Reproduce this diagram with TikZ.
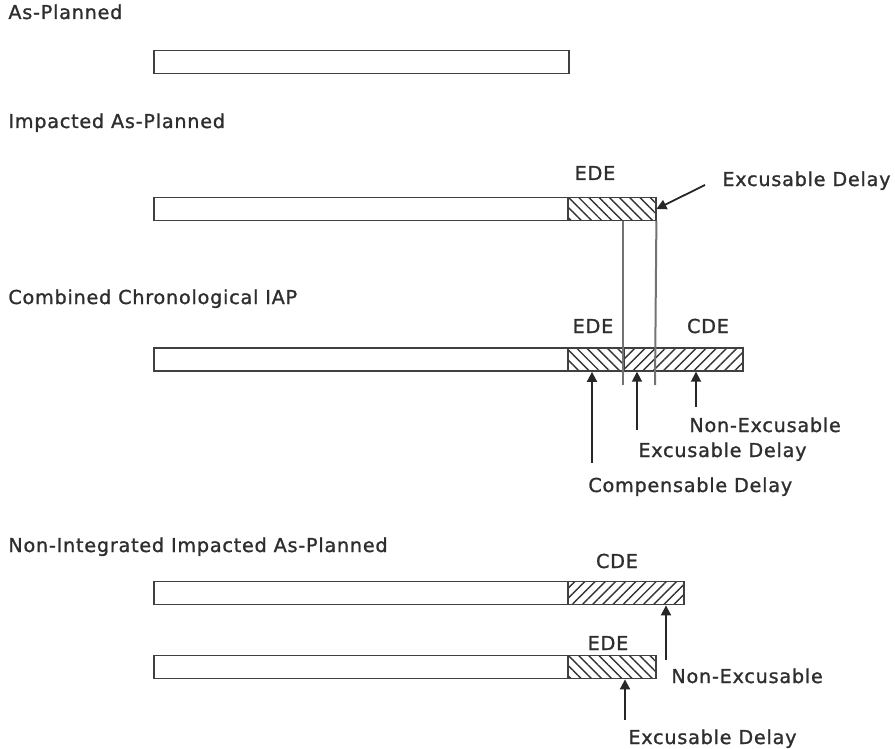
\documentclass[tikz,border=0pt]{standalone}
\usepackage{fontspec}
\setmainfont[LetterSpace=4, FakeBold=1.2]{DejaVu Sans}
\usetikzlibrary{positioning, arrows.meta, patterns.meta}

\begin{document}
\begin{tikzpicture}[x=0.5pt, y=-0.5pt,
    every node/.style={font=\fontsize{9.6}{11}\selectfont, text=black!82},
    bar/.style={draw=black!75, line width=0.9pt, fill=white, inner sep=0pt, minimum height=11.5pt, anchor=west},
    edebar/.style={bar, pattern={Lines[angle=-45, distance=3.6pt, line width=0.7pt]}, pattern color=black!80},
    cdebar/.style={bar, pattern={Lines[angle=45, distance=3.6pt, line width=0.7pt]}, pattern color=black!80},
    title/.style={anchor=base west, inner sep=0pt},
    lbl/.style={anchor=base west, inner sep=0pt},
    guide/.style={draw=black!55, line width=1pt},
    pointer/.style={draw=black!85, line width=0.9pt, -{Triangle[length=5pt, width=5pt]}}]
    \useasboundingbox (0,0) rectangle (895,749);

    % As-Planned
    \node[title] (tAP) at (8,19) {As-Planned};
    \node[bar, minimum width=207.5pt] (ap) at (153,62) {};

    % Impacted As-Planned
    \node[title] (tIAP) at (8,128) {Impacted As-Planned};
    \node[bar, minimum width=207pt] (iap) at (153,209) {};
    \node[edebar, minimum width=44pt] (iapE) at (567,209) {};
    \node[anchor=base] (iapEDE) at (595,180) {EDE};
    \node[lbl] (iapExc) at (722,186) {Excusable Delay};
    \coordinate (iapTail) at (705,185);
    \draw[pointer] (iapTail) -- (iapE.east);

    % Combined Chronological IAP
    \node[title] (tCC) at (8,304) {Combined Chronological IAP};
    \node[bar, minimum width=207pt] (cc) at (153,359.5) {};
    \node[edebar, minimum width=28pt] (ccE) at (567,359.5) {};
    \node[cdebar, minimum width=59.5pt] (ccC) at (623,359.5) {};
    \node[anchor=base] (ccEDE) at (593,333) {EDE};
    \node[anchor=base] (ccCDE) at (708,333) {CDE};

    % guide lines
    \coordinate (g1) at (623,385);
    \coordinate (g2) at (655,385);
    \draw[guide] (iapE.south -| g1) -- (g1);
    \draw[guide] (iapE.south east) -- (g2);

    % arrows below combined bar
    \coordinate (aComp) at (592,463);
    \coordinate (aExc) at (637,430);
    \coordinate (aNon) at (696,407);
    \draw[pointer] (aComp) -- (aComp |- ccE.south);
    \draw[pointer] (aExc) -- (aExc |- ccC.south);
    \draw[pointer] (aNon) -- (aNon |- ccC.south);
    \node[lbl] (ccNon) at (689,432) {Non-Excusable};
    \node[lbl] (ccExc) at (638,457) {Excusable Delay};
    \node[lbl] (ccComp) at (588,492) {Compensable Delay};

    % Non-Integrated Impacted As-Planned
    \node[title] (tNI) at (8,552) {Non-Integrated Impacted As-Planned};
    \node[bar, minimum width=207pt] (ni1) at (153,593) {};
    \node[cdebar, minimum width=58pt] (ni1C) at (567,593) {};
    \node[anchor=base] (niCDE) at (617,568) {CDE};
    \node[bar, minimum width=207pt] (ni2) at (153,667) {};
    \node[edebar, minimum width=44pt] (ni2E) at (567,667) {};
    \node[anchor=base] (niEDE) at (608,650) {EDE};

    \coordinate (aNon2) at (666,660);
    \draw[pointer] (aNon2) -- (aNon2 |- ni1C.south);
    \node[lbl] (niNon) at (671,683) {Non-Excusable};
    \coordinate (aExc2) at (625,720);
    \draw[pointer] (aExc2) -- (aExc2 |- ni2E.south);
    \node[lbl] (niExc) at (628,744) {Excusable Delay};
\end{tikzpicture}
\end{document}
